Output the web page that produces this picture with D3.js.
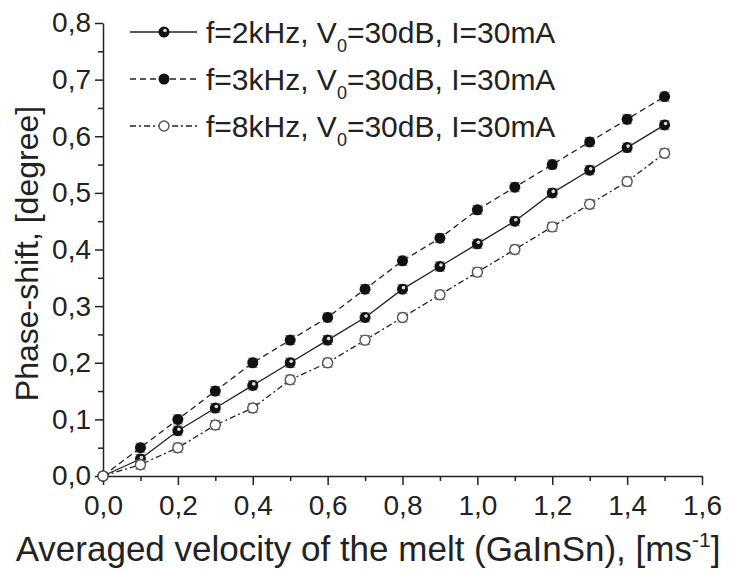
<!DOCTYPE html>
<html lang="en">
<head>
  <meta charset="UTF-8">
  <title>Phase-shift vs velocity</title>
  <style>
    body { margin: 0; padding: 0; background: white; }
    svg { display: block; font-family: "Liberation Sans", Arial, sans-serif; }
    .axis path, .axis line { stroke: #222; stroke-width: 1.5; }
    .axis text { font-size: 28px; fill: #222; }
    .title { fill: #222; }
    .legend text { font-size: 30px; fill: #222; }
  </style>
</head>
<body>
  <div id="chart"></div>
  <script src="https://d3js.org/d3.v7.min.js"></script>
  <script>
    // velocities, m/s
    var velocity = [0, 0.1, 0.2, 0.3, 0.4, 0.5, 0.6, 0.7, 0.8, 0.9, 1.0, 1.1, 1.2, 1.3, 1.4, 1.5];
    var shift2k = [0, 0.03, 0.08, 0.12, 0.16, 0.20, 0.24, 0.28, 0.33, 0.37, 0.41, 0.45, 0.50, 0.54, 0.58, 0.62];
    var shift3k = [0, 0.05, 0.10, 0.15, 0.20, 0.24, 0.28, 0.33, 0.38, 0.42, 0.47, 0.51, 0.55, 0.59, 0.63, 0.67];
    var shift8k = [0, 0.02, 0.05, 0.09, 0.12, 0.17, 0.20, 0.24, 0.28, 0.32, 0.36, 0.40, 0.44, 0.48, 0.52, 0.57];
    var errBar = [0, 0.008, 0.008, 0.008, 0.008, 0.008, 0.008, 0.008, 0.008, 0.008, 0.008, 0.008, 0.008, 0.008, 0.008, 0.008];
    var xTicks = [0, 0.2, 0.4, 0.6, 0.8, 1.0, 1.2, 1.4, 1.6];
    var yTicks = [0, 0.1, 0.2, 0.3, 0.4, 0.5, 0.6, 0.7, 0.8];
    var seriesNames = ["2", "3", "8"];

    var series = [
      {name: seriesNames[0], values: shift2k, dash: null, marker: "half"},
      {name: seriesNames[1], values: shift3k, dash: "6,4", marker: "filled"},
      {name: seriesNames[2], values: shift8k, dash: "6,3,2,3", marker: "open"}
    ];

    var W = 733, H = 571;
    var margin = {left: 103, top: 23, right: 31, bottom: 95};

    var x = d3.scaleLinear().domain([0, 1.6]).range([margin.left, W - margin.right]);
    var y = d3.scaleLinear().domain([0, 0.8]).range([H - margin.bottom, margin.top]);

    var fmt = function(d) { return d3.format(".1f")(d).replace(".", ","); };

    var svg = d3.select("#chart").append("svg")
      .attr("width", W)
      .attr("height", H);

    // axes (left and bottom only)
    svg.append("g")
      .attr("class", "axis")
      .attr("transform", "translate(0," + y(0) + ")")
      .call(d3.axisBottom(x).tickValues(xTicks).tickFormat(fmt).tickSize(9).tickPadding(10).tickSizeOuter(0));

    svg.append("g")
      .attr("class", "axis")
      .attr("transform", "translate(0," + y(0) + ")")
      .call(d3.axisBottom(x).tickValues(d3.range(0.1, 1.6, 0.2)).tickFormat("").tickSize(5).tickSizeOuter(0))
      .select(".domain").remove();

    svg.append("g")
      .attr("class", "axis")
      .attr("transform", "translate(" + x(0) + ",0)")
      .call(d3.axisLeft(y).tickValues(yTicks).tickFormat(fmt).tickSize(8).tickPadding(4).tickSizeOuter(0));

    svg.append("g")
      .attr("class", "axis")
      .attr("transform", "translate(" + x(0) + ",0)")
      .call(d3.axisLeft(y).tickValues(d3.range(0.05, 0.8, 0.1)).tickFormat("").tickSize(5).tickSizeOuter(0))
      .select(".domain").remove();

    // axis titles
    var xt = svg.append("text")
      .attr("class", "title")
      .attr("x", 368)
      .attr("y", 561)
      .attr("text-anchor", "middle")
      .style("font-size", "35px")
      .text("Averaged velocity of the melt (GaInSn), [ms");
    xt.append("tspan").attr("dy", -14).style("font-size", "21px").text("-1");
    xt.append("tspan").attr("dy", 14).text("]");

    svg.append("text")
      .attr("class", "title")
      .attr("transform", "translate(38," + ((y(0) + y(0.8)) / 2 + 4) + ") rotate(-90)")
      .attr("text-anchor", "middle")
      .style("font-size", "32px")
      .text("Phase-shift, [degree]");

    var line = d3.line()
      .x(function(d, i) { return x(velocity[i]); })
      .y(function(d) { return y(d); });

    function drawMarker(g, type, cx, cy) {
      if (type === "open") {
        g.append("circle").attr("cx", cx).attr("cy", cy).attr("r", 5)
          .attr("fill", "white").attr("stroke", "#555").attr("stroke-width", 1.4);
      } else {
        g.append("circle").attr("cx", cx).attr("cy", cy).attr("r", 5.5)
          .attr("fill", "#111");
        if (type === "half") {
          g.append("circle").attr("cx", cx + 1).attr("cy", cy - 1.5).attr("r", 1.8)
            .attr("fill", "#ddd");
        }
      }
    }

    series.forEach(function(s) {
      var g = svg.append("g");
      g.append("path")
        .datum(s.values)
        .attr("d", line)
        .attr("fill", "none")
        .attr("stroke", "#222")
        .attr("stroke-width", 1.3)
        .attr("stroke-dasharray", s.dash);

      // error bars
      s.values.forEach(function(v, i) {
        var e = errBar[i];
        if (!e) return;
        var cx = x(velocity[i]);
        g.append("line").attr("x1", cx).attr("x2", cx)
          .attr("y1", y(v - e)).attr("y2", y(v + e)).attr("stroke", "#555").attr("stroke-width", 1);
        [v - e, v + e].forEach(function(b) {
          g.append("line").attr("x1", cx - 5).attr("x2", cx + 5)
            .attr("y1", y(b)).attr("y2", y(b)).attr("stroke", "#777").attr("stroke-width", 1);
        });
      });

      s.values.forEach(function(v, i) {
        drawMarker(g, s.marker, x(velocity[i]), y(v));
      });
    });

    // legend
    var legend = svg.append("g").attr("class", "legend");
    series.forEach(function(s, i) {
      var ly = 32 + i * 47;
      var row = legend.append("g");
      row.append("line")
        .attr("x1", 130).attr("x2", 197)
        .attr("y1", ly).attr("y2", ly)
        .attr("stroke", "#222").attr("stroke-width", 1.3)
        .attr("stroke-dasharray", s.dash);
      drawMarker(row, s.marker, 164, ly);
      var t = row.append("text").attr("x", 206).attr("y", ly + 11);
      t.append("tspan").text("f=" + s.name + "kHz, V");
      t.append("tspan").attr("dy", 9).style("font-size", "18px").text("0");
      t.append("tspan").attr("dy", -9).text("=30dB, I=30mA");
    });
  </script>
</body>
</html>
